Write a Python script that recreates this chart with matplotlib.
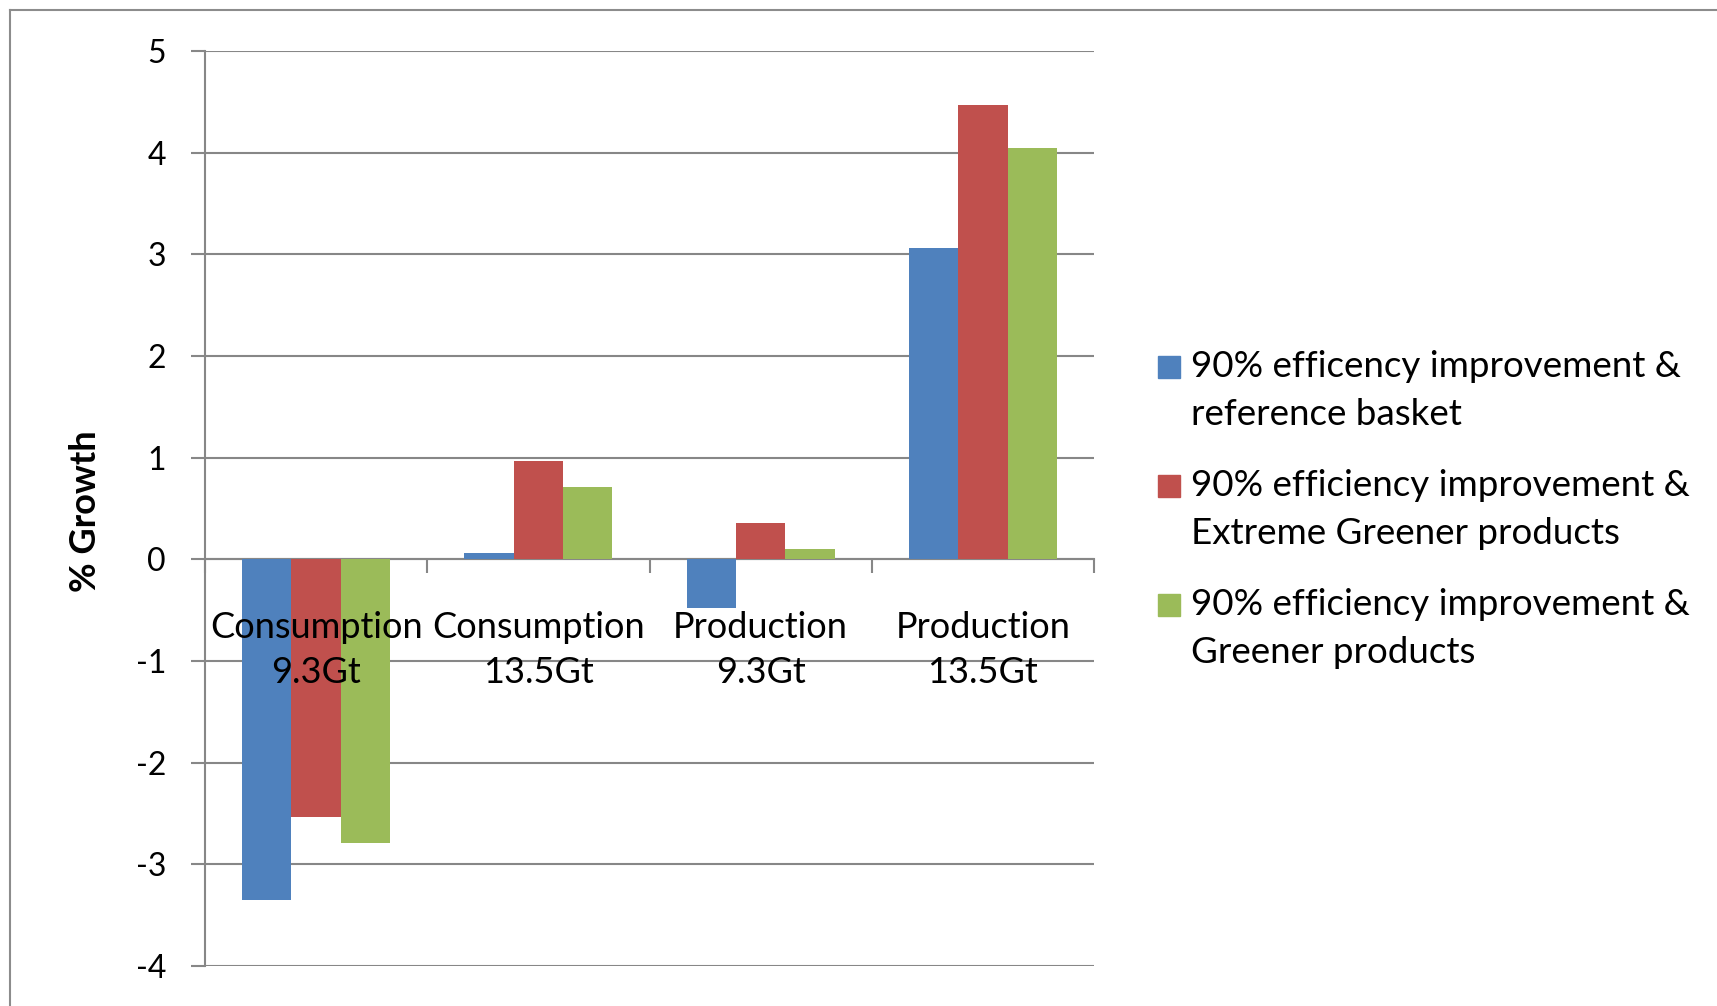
import numpy as np
import matplotlib
matplotlib.use("Agg")
import matplotlib.pyplot as plt
from matplotlib.patches import Rectangle
from matplotlib.lines import Line2D

plt.rcParams['font.family'] = ['Lato', 'DejaVu Sans']

categories = ["Consumption\n9.3Gt", "Consumption\n13.5Gt", "Production\n9.3Gt", "Production\n13.5Gt"]
series_names = [
    "90% efficency improvement &\nreference basket",
    "90% efficiency improvement &\nExtreme Greener products",
    "90% efficiency improvement &\nGreener products",
]
ref_basket = [-3.35, 0.06, -0.48, 3.06]
extreme_greener = [-2.53, 0.97, 0.36, 4.47]
greener = [-2.79, 0.71, 0.10, 4.05]
colors = ["#4F81BD", "#C0504D", "#9BBB59"]
yticks = [-4, -3, -2, -1, 0, 1, 2, 3, 4, 5]

grid_col = "#878787"

fig = plt.figure(figsize=(17.17, 10.06), dpi=100)
ax = fig.add_axes([205/1717, 1 - 966/1006, (1094-205)/1717, (966-51)/1006])

x = np.arange(len(categories))
w = 1/4.5
for i, (vals, c) in enumerate(zip([ref_basket, extreme_greener, greener], colors)):
    ax.bar(x + (i-1)*w, vals, w, color=c, zorder=3)

ax.set_xlim(-0.5, 3.5)
ax.set_ylim(-4, 5)
ax.set_yticks(yticks)
ax.set_yticklabels([str(t) for t in yticks])
ax.yaxis.grid(True, color=grid_col, linewidth=1.5, zorder=0)
ax.set_axisbelow(True)
ax.tick_params(axis='y', length=10, width=1.5, color=grid_col, pad=18, labelsize=23)

# category labels sit on top of the bars, as in the original
ax.set_xticks(x)
ax.set_xticklabels([])
ax.set_xticks(np.arange(-0.5, 4, 1), minor=True)
ax.tick_params(axis='x', which='major', length=0)
ax.tick_params(axis='x', which='minor', length=10, width=1.5, color=grid_col)
for xi, lab in zip(x, categories):
    ax.annotate(lab, (xi, 0), xytext=(0, -37), textcoords='offset points',
                ha='center', va='top', fontsize=26, linespacing=1.45, zorder=5)

for s in ['top', 'right']:
    ax.spines[s].set_visible(False)
ax.spines['bottom'].set_position(('data', 0))
ax.spines['bottom'].set_color(grid_col)
ax.spines['bottom'].set_linewidth(1.5)
ax.spines['left'].set_color(grid_col)
ax.spines['left'].set_linewidth(1.5)

fig.text(85/1717, 1 - 511/1006, "% Growth", rotation=90, fontsize=26,
         fontweight='bold', ha='center', va='center')

# legend drawn by hand so the square sits beside the first line
for i, (name, c) in enumerate(zip(series_names, colors)):
    ytop = 350 + i*119
    fig.patches.append(Rectangle((1158/1717, 1 - (ytop + 28)/1006), 22/1717, 22/1006,
                                 transform=fig.transFigure, color=c))
    fig.text(1191/1717, 1 - ytop/1006, name, fontsize=26.5, va='top', ha='left',
             linespacing=1.56)

# outer chart border
fig.add_artist(Line2D([10/1717, 10/1717], [0, 1 - 10/1006], color="#8c8c8c",
                      linewidth=1.5, transform=fig.transFigure))
fig.add_artist(Line2D([10/1717, 1], [1 - 10/1006, 1 - 10/1006], color="#8c8c8c",
                      linewidth=1.5, transform=fig.transFigure))

fig.savefig("out.png", dpi=100)
